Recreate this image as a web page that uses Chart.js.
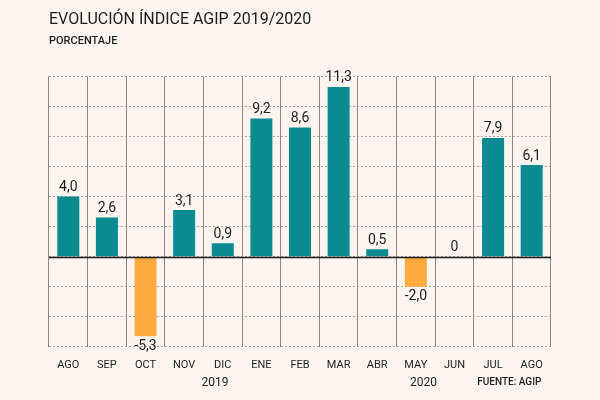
<!DOCTYPE html>
<html>
<head>
<meta charset="utf-8">
<script src="https://cdn.jsdelivr.net/npm/chart.js@4/dist/chart.umd.min.js"></script>
<style>
  html, body { margin: 0; padding: 0; background: #fcf5ef; }
  canvas { display: block; }
</style>
</head>
<body>
<canvas id="agipChart" width="600" height="400"></canvas>
<script>
// ---- datos ----
const months = ['AGO', 'SEP', 'OCT', 'NOV', 'DIC', 'ENE', 'FEB', 'MAR', 'ABR', 'MAY', 'JUN', 'JUL', 'AGO'];
const values = [4.0, 2.6, -5.3, 3.1, 0.9, 9.2, 8.6, 11.3, 0.5, -2.0, 0, 7.9, 6.1];
const years = ['2019', '2020'];
const yMin = -6;
const yMax = 12;
const yStep = 2;

const TEAL = '#0b8a90';
const ORANGE = '#fbab3f';
const FONT = 'Roboto, "DejaVu Sans", sans-serif';

function fmt(v) {
  if (v === 0) return '0';
  return v.toFixed(1).replace('.', ',');
}

// etiquetas de valor sobre/bajo cada barra
const valueLabels = {
  id: 'valueLabels',
  afterDatasetsDraw(chart) {
    const ctx = chart.ctx;
    const meta = chart.getDatasetMeta(0);
    const yScale = chart.scales.y;
    ctx.save();
    ctx.font = '14px ' + FONT;
    ctx.fillStyle = '#1e1e1e';
    ctx.textAlign = 'center';
    meta.data.forEach((bar, i) => {
      const v = values[i];
      if (v < 0) {
        ctx.textBaseline = 'top';
        ctx.fillText(fmt(v), bar.x, bar.y + 3);
      } else {
        ctx.textBaseline = 'bottom';
        const y = v === 0 ? yScale.getPixelForValue(0) : bar.y;
        ctx.fillText(fmt(v), bar.x, y - 2);
      }
    });
    // linea del cero
    const y0 = Math.round(yScale.getPixelForValue(0)) + 0.5;
    ctx.strokeStyle = '#1e1e1e';
    ctx.lineWidth = 1.5;
    ctx.beginPath();
    ctx.moveTo(chart.chartArea.left, y0);
    ctx.lineTo(chart.chartArea.right, y0);
    ctx.stroke();
    ctx.restore();
  }
};

// años y fuente debajo del eje
const footer = {
  id: 'footer',
  afterDraw(chart) {
    const ctx = chart.ctx;
    const x = chart.scales.x;
    const yText = chart.chartArea.bottom + 36;
    ctx.save();
    ctx.fillStyle = '#1e1e1e';
    ctx.textAlign = 'center';
    ctx.textBaseline = 'middle';
    ctx.font = '12px ' + FONT;
    ctx.fillText(years[0], x.getPixelForValue(3.8), yText);
    ctx.fillText(years[1], x.getPixelForValue(9.2), yText);
    ctx.font = '500 10px ' + FONT;
    ctx.fillText('FUENTE: AGIP', x.getPixelForValue(11.42), yText);
    ctx.restore();
  }
};

new Chart(document.getElementById('agipChart').getContext('2d'), {
  type: 'bar',
  data: {
    labels: months,
    datasets: [{
      data: values,
      backgroundColor: values.map(v => v < 0 ? ORANGE : TEAL),
      barPercentage: 0.57,
      categoryPercentage: 1
    }]
  },
  options: {
    responsive: false,
    animation: false,
    layout: { padding: { left: 49, right: 49, top: 0, bottom: 16 } },
    plugins: {
      legend: { display: false },
      tooltip: { enabled: false },
      title: {
        display: true,
        text: 'EVOLUCIÓN ÍNDICE AGIP 2019/2020',
        align: 'start',
        color: '#1e1e1e',
        font: { family: FONT, size: 16, weight: 'normal' },
        padding: { top: 10, bottom: 5 }
      },
      subtitle: {
        display: true,
        text: 'PORCENTAJE',
        align: 'start',
        color: '#1e1e1e',
        font: { family: FONT, size: 11, weight: '500' },
        padding: { bottom: 29 }
      }
    },
    scales: {
      x: {
        offset: true,
        grid: { display: true, offset: true, color: '#8c8782', lineWidth: 1, drawTicks: false },
        border: { display: false },
        ticks: { color: '#1e1e1e', font: { family: FONT, size: 11 }, padding: 12 }
      },
      y: {
        min: yMin,
        max: yMax,
        ticks: { stepSize: yStep, display: false },
        grid: { color: '#a8a29d', lineWidth: 1, drawTicks: false },
        border: { display: false, dash: [2, 2] }
      }
    }
  },
  plugins: [valueLabels, footer]
});
</script>
</body>
</html>
